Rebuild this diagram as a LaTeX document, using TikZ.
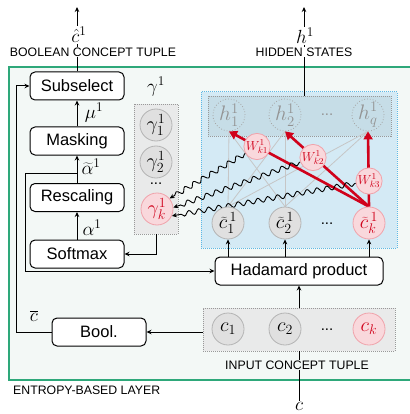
\documentclass[tikz,border=0pt]{standalone}
\usepackage{fix-cm}
\usepackage[no-math]{fontspec}
\setmainfont{Liberation Sans}
\usetikzlibrary{arrows.meta,decorations.pathmorphing,calc}
\definecolor{gframe}{HTML}{2EA87A}
\definecolor{gfill}{HTML}{F3F8F6}
\definecolor{bfill}{HTML}{D4EAF5}
\definecolor{bline}{HTML}{5CB8E6}
\definecolor{hfill}{HTML}{C6DDE7}
\definecolor{rd}{HTML}{D0021B}
\definecolor{pkfill}{HTML}{F9D8DC}
\definecolor{pkline}{HTML}{F0A3AB}
\definecolor{gyfill}{HTML}{E0E0E0}
\definecolor{gyline}{HTML}{B4B4B4}
\definecolor{boxfill}{HTML}{E9EAEA}
\pgfdeclarelayer{bg}
\pgfdeclarelayer{lines}
\pgfsetlayers{bg,lines,main}
\tikzset{
  blk/.style={draw, rounded corners=5pt, fill=white, line width=1pt, minimum width=94pt, minimum height=28pt, inner sep=0pt, font=\fontsize{16.5}{18}\selectfont},
  gc/.style={circle, draw=gyline, fill=gyfill, line width=0.8pt, minimum size=32pt, inner sep=0pt, font=\fontsize{20}{20}\selectfont},
  pc/.style={circle, draw=pkline, fill=pkfill, text=rd, line width=0.8pt, minimum size=32pt, inner sep=0pt, font=\fontsize{20}{20}\selectfont},
  hc/.style={circle, draw=gray!70, dotted, line width=0.8pt, text=gray!85, minimum size=32pt, inner sep=0pt, font=\fontsize{21}{21}\selectfont},
  wc/.style={circle, draw=pkline, fill=pkfill, text=rd, line width=0.8pt, minimum size=22pt, inner sep=0pt, font=\fontsize{13}{13}\selectfont},
  dbox/.style={draw=gray!80, dash pattern=on 1pt off 1pt, line width=0.8pt, inner sep=0pt},
  arr/.style={line width=1pt, -{Stealth[length=5pt,width=4.5pt]}},
  redarr/.style={line width=2.6pt, rd, -{Triangle[length=8pt,width=9pt]}},
  gl/.style={line width=0.8pt, gray!45},
  wavy/.style={line width=0.9pt, -{Stealth[length=5pt,width=4.5pt]}, decorate, decoration={snake, amplitude=2.4pt, segment length=10pt, pre length=1pt, post length=5pt}},
  lab/.style={font=\fontsize{12.3}{14}\selectfont, inner sep=1pt},
  mlab/.style={font=\fontsize{19}{19}\selectfont, inner sep=1pt},
  dots/.style={font=\fontsize{15}{15}\selectfont}
}
\begin{document}
\begin{tikzpicture}[x=1pt,y=-1pt]
\useasboundingbox (0,0) rectangle (409,414);
\begin{pgfonlayer}{bg}
  \node[draw=gframe, fill=gfill, line width=1.3pt, minimum width=410pt, minimum height=313pt, inner sep=0pt] (frame) at (214,223.5) {};
  \node[draw=bline, fill=bfill, dash pattern=on 1pt off 1pt, line width=1pt, minimum width=196pt, minimum height=156pt, inner sep=0pt] (blue) at (299,170) {};
  \node[dbox, fill=hfill, minimum width=183pt, minimum height=40pt] (hbox) at (299.5,116) {};
  \node[dbox, fill=boxfill, minimum width=44pt, minimum height=130pt] (gbox) at (156,169) {};
  \node[dbox, fill=boxfill, minimum width=192pt, minimum height=43pt] (inbox) at (299,329.5) {};
\end{pgfonlayer}

% left column
\node[blk] (sub) at (77,86) {Subselect};
\node[blk] (mask) at (77,141) {Masking};
\node[blk] (resc) at (77,197.5) {Rescaling};
\node[blk] (soft) at (77,254) {Softmax};
\node[blk] (bool) at (99,332) {Bool.};
\node[blk, minimum width=168pt] (had) at (299,271) {Hadamard product};

% gamma column
\node[mlab] (glab) at (156,87) {$\gamma^1$};
\node[gc] (g1) at (156,125) {$\gamma^1_1$};
\node[gc] (g2) at (156,162) {$\gamma^1_2$};
\node[dots] (gd) at (156,184) {...};
\node[pc] (gk) at (157,209) {$\gamma^1_k$};

% hidden states
\node[hc] (h1) at (229,115) {$h^1_1$};
\node[hc] (h2) at (285,115) {$h^1_2$};
\node[dots, text=gray!85] (hd) at (327,115) {...};
\node[hc] (hq) at (368,115) {$h^1_q$};

% tilde c
\node[gc] (ct1) at (228,223) {$\widetilde{c}^{\,1}_1$};
\node[gc] (ct2) at (285,223) {$\widetilde{c}^{\,1}_2$};
\node[dots] (ctd) at (327,224) {...};
\node[pc] (ctk) at (369,223) {$\widetilde{c}^{\,1}_k$};

% W nodes
\node[wc] (w1) at (257,146.5) {$W^1_{k1}$};
\node[wc] (w2) at (313,157.5) {$W^1_{k2}$};
\node[wc] (w3) at (369,181) {$W^1_{k3}$};

% input tuple
\node[gc] (c1) at (228,329) {$c_1$};
\node[gc] (c2) at (285,329) {$c_2$};
\node[dots] (cd) at (327,330) {...};
\node[pc] (ck) at (369,329) {$c_k$};

% labels
\node[lab, fill=white] (boolt) at (93,52) {BOOLEAN CONCEPT TUPLE};
\node[mlab, fill=white] (chat) at (79,35) {$\hat{c}^1$};
\node[lab, fill=white] (hidt) at (304,52) {HIDDEN STATES};
\node[mlab, fill=white] (hsup) at (305,36) {$h^1$};
\node[lab, fill=gfill] (inpt) at (297,365) {INPUT CONCEPT TUPLE};
\node[mlab] (cin) at (299,406) {$c$};
\node[lab, anchor=west] (entl) at (12,390) {ENTROPY-BASED LAYER};
\node[mlab] (mulab) at (94,113) {$\mu^1$};
\node[mlab] (atlab) at (91,167) {$\widetilde{\alpha}^1$};
\node[mlab] (alab) at (92,228) {$\alpha^1$};
\node[mlab] (cbar) at (34,316) {$\overline{c}$};
\coordinate (chtop) at (77,7);
\coordinate (htop) at (304,7);
\coordinate (atil) at (77,173);

\begin{pgfonlayer}{lines}
  \draw[arr] (sub.north) -- (chtop);
  \draw[arr] (hbox.north -| htop) -- (htop);
  \draw[line width=1pt] (inbox.south) -- (cin.north);
  \draw[arr] (soft.north) -- (resc.south);
  \draw[arr] (resc.north) -- (mask.south);
  \draw[arr] (mask.north) -- (sub.south);
  \draw[arr] (atil) -- ++(-52,0) |- (had.west);
  \draw[arr] (bool.west) -- ++(-35,0) |- (sub.west);
  \draw[arr] (gbox.south) |- (soft.east);
  \draw[arr] (inbox.west |- bool.east) -- (bool.east);
  \draw[arr] (inbox.north) -- (had.south);
  \foreach \n in {ct1,ct2,ctk} \draw[arr] (had.north -| \n) -- (\n.south);
  \foreach \a in {ct1,ct2} \foreach \b in {h1,h2,hq} \draw[gl] (\a.north) -- (\b.south);
  \draw[redarr] (ctk.north) -- (h1.south);
  \draw[redarr] (ctk.north) -- (h2.south);
  \draw[redarr] (ctk.north) -- (hq.south);
  \draw[wavy] (w1) -- (gk.40);
  \draw[wavy] (w2) -- (gk.5);
  \draw[wavy] (w3) -- (gk.-25);
\end{pgfonlayer}
\end{tikzpicture}
\end{document}
